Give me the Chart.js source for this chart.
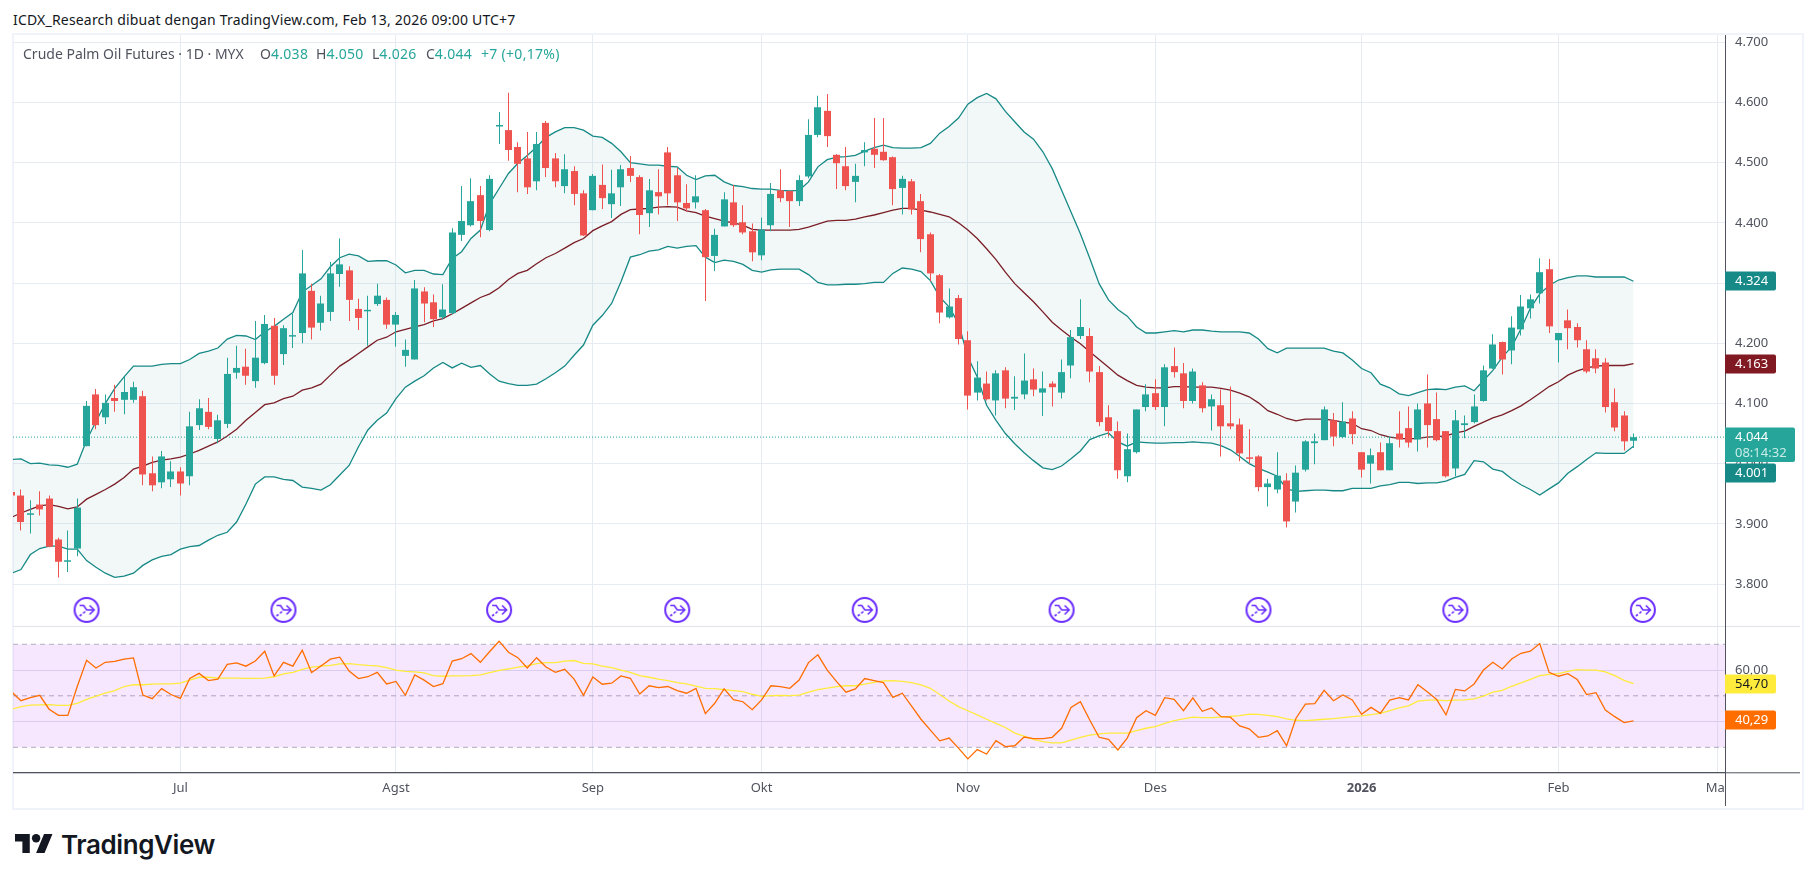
<!DOCTYPE html>
<html>
<head>
<meta charset="utf-8">
<title>Crude Palm Oil Futures</title>
<script src="https://cdn.jsdelivr.net/npm/chart.js@4/dist/chart.umd.js"></script>
<style>
  html, body { margin: 0; background: #fff; overflow: hidden; }
  body { width: 1814px; height: 882px; position: relative; font-family: "Noto Sans", sans-serif; }
  #frame { position: absolute; left: 12px; top: 33px; width: 1788px; height: 773px; border: 2px solid #f0f3fa; }
  canvas { position: absolute; }
  #main { left: 13px; top: 35px; }
  #rsi { left: 13px; top: 626px; }
  #title { position: absolute; left: 13px; top: 10px; font-size: 14px; letter-spacing: 0.19px; line-height: 20px; color: #131722; white-space: nowrap; }
  .legend { position: absolute; top: 44px; font-size: 14px; line-height: 20px; color: #50535e; white-space: pre; }
  .legend b { font-weight: 400; color: #26a69a; letter-spacing: 0.3px; }
  #logo { position: absolute; left: 15px; top: 834px; }
  #brand { position: absolute; left: 61px; top: 827px; font: 600 26px/36px Inter, sans-serif; color: #131722; letter-spacing: -0.4px; }
</style>
</head>
<body>
<div id="frame"></div>
<div id="title">ICDX_Research dibuat dengan TradingView.com, Feb 13, 2026 09:00 UTC+7</div>
<canvas id="main" width="1787" height="591"></canvas>
<canvas id="rsi" width="1787" height="180"></canvas>
<div class="legend" style="left:23px">Crude Palm Oil Futures · 1D · MYX</div>
<div class="legend" style="left:260px">O<b>4.038</b></div>
<div class="legend" style="left:316px">H<b>4.050</b></div>
<div class="legend" style="left:372px">L<b>4.026</b></div>
<div class="legend" style="left:426px">C<b>4.044</b></div>
<div class="legend" style="left:481px"><b>+7 (+0,17%)</b></div>
<svg id="logo" width="38" height="19" viewBox="0 4 36 18"><path fill="#131722" d="M14 22H7V11H0V4h14v18ZM28 22h-8l7.5-18h8L28 22Z"/><circle fill="#131722" cx="20" cy="8" r="4"/></svg>
<div id="brand">TradingView</div>
<script>
// daily candles, bar 0 is clipped at the left edge
const opens = [3953,3947,3915,3932,3942,3874,3837,3859,4029,4115,4077,4109,4106,4106,4112,3984,3969,3974,3987,3979,
  4064,4086,4041,4066,4151,4161,4137,4167,4229,4182,4211,4217,4287,4234,4252,4315,4321,4257,4253,4265,
  4272,4231,4179,4173,4286,4268,4243,4250,4380,4396,4446,4388,4560,4554,4526,4507,4469,4566,4507,4461,
  4486,4449,4421,4463,4431,4459,4491,4476,4416,4451,4517,4479,4433,4434,4421,4345,4394,4434,4401,4386,
  4346,4396,4454,4453,4436,4477,4546,4586,4513,4494,4468,4517,4523,4518,4509,4458,4469,4436,4381,4313,
  4243,4275,4205,4118,4133,4105,4155,4108,4115,4140,4118,4133,4118,4163,4212,4212,4152,4077,4054,3979,
  4019,4094,4117,4094,4162,4150,4104,4130,4095,4097,4067,4065,4009,4012,3961,3957,3972,3937,3990,4034,
  4039,4072,4044,4075,4019,4000,4019,3989,4050,4059,4040,4100,4074,4054,3992,4064,4069,4104,4158,4202,
  4188,4223,4258,4283,4323,4205,4238,4227,4190,4175,4168,4102,4080,4038];
const highs = [3958,3957,3939,3954,3947,3877,3889,3942,4104,4124,4115,4131,4144,4136,4121,4012,4021,4004,3994,4086,
  4107,4109,4081,4176,4196,4191,4237,4247,4242,4230,4249,4355,4299,4279,4335,4374,4328,4274,4279,4299,
  4276,4252,4206,4305,4293,4281,4298,4391,4461,4474,4461,4479,4584,4616,4534,4551,4551,4569,4516,4514,
  4494,4454,4481,4497,4488,4496,4511,4479,4473,4489,4526,4491,4464,4479,4423,4390,4451,4463,4429,4399,
  4409,4466,4489,4453,4479,4572,4611,4614,4514,4526,4498,4534,4574,4574,4510,4478,4473,4448,4384,4315,
  4291,4280,4220,4170,4153,4155,4160,4145,4183,4158,4153,4137,4173,4222,4273,4225,4162,4097,4070,4050,
  4090,4132,4140,4165,4193,4167,4158,4135,4115,4123,4128,4075,4057,4014,3975,4019,3984,3997,4039,4050,
  4095,4084,4102,4087,4019,4025,4035,4045,4087,4095,4100,4148,4118,4054,4089,4080,4115,4163,4215,4203,
  4245,4280,4281,4341,4340,4217,4256,4233,4205,4190,4175,4125,4087,4050];
const lows = [3946,3889,3884,3914,3861,3811,3820,3846,4029,4057,4066,4086,4082,4101,3964,3954,3959,3961,3947,3964,
  4056,4057,4034,4059,4141,4131,4126,4165,4131,4164,4192,4200,4206,4221,4237,4294,4237,4222,4196,4262,
  4224,4194,4161,4173,4235,4227,4240,4248,4370,4394,4376,4386,4531,4503,4451,4448,4454,4476,4459,4449,
  4429,4378,4421,4423,4408,4428,4468,4381,4393,4414,4429,4403,4419,4424,4270,4320,4394,4393,4381,4336,
  4338,4386,4434,4393,4428,4474,4542,4526,4456,4454,4434,4494,4491,4503,4429,4414,4414,4351,4303,4233,
  4241,4198,4090,4105,4105,4080,4092,4089,4107,4112,4079,4095,4108,4142,4207,4135,4062,4045,3975,3969,
  4017,4087,4089,4062,4143,4092,4100,4085,4055,4012,4057,4004,4000,3954,3929,3951,3894,3919,3987,3999,
  4039,4029,4042,4032,3977,3967,3989,3989,4027,4027,4020,4027,4037,3977,3979,4042,4067,4103,4157,4148,
  4165,4213,4241,4266,4217,4168,4190,4193,4150,4150,4085,4054,4022,4026];
const closes = [3947,3903,3917,3924,3862,3837,3839,3927,4096,4064,4101,4104,4119,4127,3982,3964,4012,3987,3967,4062,
  4092,4061,4072,4149,4159,4146,4176,4232,4146,4225,4212,4316,4226,4266,4316,4331,4272,4242,4255,4279,
  4231,4247,4189,4291,4266,4240,4256,4384,4403,4436,4403,4473,4561,4521,4498,4459,4531,4491,4469,4489,
  4448,4379,4478,4441,4449,4489,4478,4413,4454,4444,4449,4434,4424,4444,4343,4380,4439,4396,4384,4351,
  4389,4448,4441,4436,4471,4546,4592,4544,4499,4461,4478,4521,4513,4504,4456,4473,4422,4373,4316,4251,
  4261,4207,4113,4143,4107,4150,4108,4111,4138,4123,4125,4127,4152,4210,4227,4153,4069,4054,3989,4024,
  4090,4115,4094,4160,4152,4104,4153,4092,4107,4062,4062,4017,4008,3961,3967,3980,3904,3985,4037,4037,
  4090,4045,4070,4049,3990,4014,3989,4034,4040,4035,4090,4064,4039,3979,4072,4067,4095,4155,4198,4173,
  4226,4261,4273,4318,4228,4217,4225,4205,4153,4158,4094,4060,4037,4044];

// bollinger bands
const bbUpper = [4007,4008,4000,4001,3998,3997,3994,3999,4039,4070,4100,4125,4144,4162,4162,4162,4165,4166,4166,4173,
  4183,4187,4192,4207,4213,4212,4206,4219,4228,4240,4251,4285,4296,4307,4327,4342,4348,4345,4336,4337,
  4337,4330,4317,4321,4321,4315,4314,4341,4352,4374,4388,4432,4457,4482,4499,4512,4526,4542,4551,4558,
  4558,4554,4544,4542,4532,4518,4500,4498,4496,4496,4494,4493,4479,4472,4478,4479,4468,4462,4460,4457,
  4456,4456,4454,4453,4454,4468,4493,4505,4509,4510,4512,4519,4525,4529,4525,4524,4524,4525,4532,4549,
  4560,4574,4597,4608,4615,4606,4585,4568,4551,4539,4518,4490,4454,4418,4382,4341,4299,4272,4256,4245,
  4227,4217,4217,4219,4221,4219,4222,4222,4220,4219,4219,4219,4217,4207,4191,4184,4192,4192,4192,4192,
  4192,4187,4184,4172,4158,4151,4132,4126,4116,4113,4118,4123,4124,4123,4127,4129,4121,4138,4155,4177,
  4194,4224,4258,4282,4296,4305,4309,4312,4312,4310,4310,4310,4310,4303];
const bbBasis = [3911,3918,3924,3930,3932,3929,3925,3928,3941,3949,3957,3966,3977,3991,3996,4002,4006,4008,4011,4016,
  4022,4029,4036,4046,4057,4072,4085,4098,4101,4108,4112,4122,4126,4132,4147,4162,4172,4183,4194,4205,
  4210,4219,4223,4227,4231,4237,4241,4249,4258,4267,4276,4282,4292,4306,4316,4321,4332,4342,4349,4358,
  4367,4374,4387,4395,4402,4414,4422,4423,4424,4426,4427,4426,4420,4417,4411,4407,4403,4400,4396,4389,
  4388,4388,4388,4388,4389,4393,4398,4403,4404,4404,4406,4410,4413,4417,4421,4424,4424,4421,4418,4414,
  4410,4400,4388,4374,4357,4339,4318,4299,4284,4269,4252,4235,4222,4210,4199,4186,4173,4160,4147,4138,
  4130,4127,4126,4126,4128,4128,4127,4127,4127,4125,4122,4117,4111,4101,4088,4082,4075,4071,4074,4074,
  4074,4072,4069,4067,4058,4055,4048,4044,4042,4041,4042,4044,4045,4046,4051,4054,4062,4069,4076,4081,
  4088,4096,4106,4117,4128,4136,4147,4154,4159,4162,4163,4163,4163,4166];
const bbLower = [3818,3824,3849,3859,3863,3863,3858,3858,3839,3828,3818,3811,3813,3818,3831,3840,3846,3849,3858,3862,
  3864,3873,3881,3886,3903,3933,3966,3978,3978,3974,3972,3961,3959,3956,3965,3981,3997,4028,4056,4072,
  4084,4108,4127,4137,4146,4159,4168,4159,4167,4160,4163,4149,4137,4133,4130,4130,4132,4141,4151,4162,
  4180,4197,4230,4246,4266,4302,4343,4347,4353,4355,4361,4358,4361,4362,4343,4334,4338,4336,4331,4321,
  4318,4322,4323,4323,4323,4314,4301,4297,4297,4298,4298,4299,4301,4301,4316,4325,4323,4319,4304,4277,
  4260,4233,4177,4144,4097,4072,4050,4033,4018,4005,3993,3990,3996,4008,4021,4040,4046,4051,4036,4029,
  4036,4035,4034,4034,4035,4035,4036,4035,4034,4030,4023,4012,4000,3992,3986,3979,3958,3954,3955,3956,
  3956,3955,3955,3959,3959,3959,3963,3965,3969,3969,3967,3968,3968,3971,3977,3982,4005,4003,3991,3987,
  3975,3965,3957,3948,3958,3968,3984,3995,4007,4018,4017,4017,4017,4029];

// rsi pane
const rsiValues = [51.5,48.1,49.3,50.2,44.8,42.4,42.4,53.6,63.8,60.8,63,63.4,64.2,64.7,50.3,48.9,52.8,50.5,49,56.7,
  58.7,55.9,56.5,62.2,62.8,61.5,63.5,67.3,57.7,63,61.5,67.7,59,61.6,64.2,65,59.6,56.7,57.4,59.1,
  54.6,55.6,50.2,58.1,56.1,53.6,54.7,63.5,64.4,66.4,63,67.2,71.2,66.9,64.8,60.8,64.8,61.2,59.1,60.3,
  56.5,50.2,57.3,54.5,54.9,57.7,56.8,50.7,53.9,53.2,53.6,52,51,52.9,43.1,47.1,52.7,48.5,47.7,44.6,
  48.4,53.9,53.6,52.9,56.1,62.9,65.9,60,55.5,51.4,52.7,56.7,55.9,55.1,49.4,51,46,40.9,36.7,32.5,
  33.6,29.7,25.5,29.1,27.4,32.6,30.3,30.6,34,33.4,33.4,33.9,37.4,45.5,47.7,40.6,33.9,33.1,29,33.6,
  41.5,44.2,42.4,49.3,48.6,44.2,49.2,44,45.3,41.9,41.7,38.3,37.2,33.9,34.4,36.5,30.6,41.3,46.8,47,
  52.1,48.1,50.3,48.4,42.8,45.5,43.2,48.3,49.3,48.4,54.3,51.6,48.6,42.6,52.5,51.9,54.6,60,63,60.4,
  64.3,66.5,67.3,70.3,59.1,57.6,58.6,56.3,50.5,51.2,44.5,41.9,39.6,40.29];
const rsiMa = [44.8,45.8,46.4,46.5,46.6,46.3,46.3,47.1,48.6,49.9,51,52,53.6,54.3,54.3,54.5,54.6,54.6,54.9,56.1,
  57.2,57.2,56.9,56.9,56.9,56.8,56.8,56.9,57.4,58.5,59.1,60.3,61.1,61.5,61.8,62.4,62.5,62.1,61.8,61.6,
  60.9,60,59.5,59.3,58.9,57.8,57.6,57.7,57.7,57.8,58.1,59,59.9,60.4,61.1,61.6,62.5,62.9,62.9,63.5,
  63.7,62.6,62.4,61.5,60.9,60,59.1,57.8,57.2,56.5,55.9,55.1,54.6,53.8,52.9,52.8,52.4,52,51.6,50.6,
  49.8,50.1,50.2,50.1,50.3,51.4,52.4,53,53.6,53.9,53.9,54.5,55.2,55.8,55.9,55.6,55.1,54.2,52.9,50.5,
  48,45.8,44.2,42.6,40.9,39.3,37.7,35.5,34.3,33.1,32.2,31.7,31.7,32.8,33.9,34.7,35.2,35.5,35.5,35.5,
  36.5,37.4,38,39.3,40.4,41,41.7,41.5,41.5,41.7,42,42.3,42.9,42.8,42.4,41.9,41,40.5,40.4,40.6,
  40.9,41.1,41.5,41.9,42.2,42.7,43.2,44.2,45.3,46.1,47.9,48.3,48.3,48.1,48.3,48.4,48.8,49.9,51.4,52.1,
  53.7,55,56.4,57.8,58.3,58.6,59.5,60.2,60,60,59.3,57.8,56,54.7];

const monthBars = [18, 41, 62, 80, 102, 122, 144, 165, 182];
const monthLabels = ["Jul", "Agst", "Sep", "Okt", "Nov", "Des", "2026", "Feb", "Mar"];
const priceTicks = [3800, 3900, 4000, 4100, 4200, 4300, 4400, 4500, 4600, 4700];
const rsiTicks = [40, 60];
const rsiLevels = [70, 50, 30];
const eventBars = [8, 29, 52, 71, 91, 112, 133, 154, 174];

const X_MIN = 0.149, X_MAX = 182.76;
const GREEN = "#26a69a", RED = "#ef5350", TEAL = "#178a87", MAROON = "#801922";
const GRID = "#e6ecf2", AXIS = "#50535e";
const FONT = '"Noto Sans", sans-serif';

const pts = (arr) => arr.map((y, x) => ({ x, y }));
const flat = (y) => [{ x: X_MIN, y }, { x: X_MAX, y }];
const candleColors = closes.map((c, i) => (c >= opens[i] ? GREEN : RED));

// stop chart.js insetting the plot area for half tick labels
function noPadding(scale) {
  scale.paddingTop = scale.paddingBottom = scale.paddingLeft = scale.paddingRight = 0;
}

function makeIcon() {
  const c = document.createElement("canvas");
  c.width = c.height = 30;
  const g = c.getContext("2d");
  g.strokeStyle = "#6a2dff";
  g.lineWidth = 2;
  g.beginPath();
  g.arc(15, 15, 12, 0, Math.PI * 2);
  g.stroke();
  g.lineWidth = 1.6;
  g.beginPath();
  g.moveTo(8, 10.5); g.lineTo(12, 10.5); g.lineTo(15, 15); g.lineTo(22, 15);
  g.moveTo(18, 10.5); g.lineTo(22.5, 15); g.lineTo(18, 19.5);
  g.moveTo(8, 21); g.lineTo(10, 19.5);
  g.moveTo(11.5, 18.5); g.lineTo(13.5, 16.5);
  g.stroke();
  return c;
}

const monthAxis = {
  type: "linear", min: X_MIN, max: X_MAX, offset: false,
  afterBuildTicks(scale) { scale.ticks = monthBars.map((value) => ({ value })); },
};

function drawTag(ctx, yScale, t) {
  const y = Math.round(yScale.getPixelForValue(t.at));
  const x = yScale.left;
  ctx.fillStyle = t.bg;
  ctx.beginPath();
  ctx.roundRect(x, y - 9.5, 51, 19, [0, 2, 2, 0]);
  ctx.fill();
  ctx.fillStyle = t.fg;
  ctx.font = "13px " + FONT;
  ctx.textAlign = "left";
  ctx.textBaseline = "middle";
  ctx.fillText(t.text, x + 10, y + 0.5);
}

// keep wicks and bodies on whole pixels so they stay sharp
const snapBars = {
  id: "snapBars",
  afterDatasetsUpdate(chart) {
    chart.getSortedVisibleDatasetMetas().forEach((meta) => {
      if (meta.type !== "bar") return;
      meta.data.forEach((el) => { el.x = Math.floor(el.x) + 0.5; });
    });
  },
};

const mainTags = {
  id: "mainTags",
  afterDraw(chart) {
    const { ctx, scales: { y } } = chart;
    const last = closes.length - 1;
    ctx.save();
    drawTag(ctx, y, { at: bbUpper[last], text: "4.324", bg: TEAL, fg: "#fff" });
    drawTag(ctx, y, { at: bbBasis[last], text: "4.163", bg: MAROON, fg: "#fff" });
    drawTag(ctx, y, { at: 3985, text: "4.001", bg: TEAL, fg: "#fff" });
    const top = Math.round(y.getPixelForValue(closes[last])) - 9.5;
    ctx.fillStyle = GREEN;
    ctx.beginPath();
    ctx.roundRect(y.left, top, 70, 34.5, [0, 2, 2, 0]);
    ctx.fill();
    ctx.fillStyle = "#fff";
    ctx.fillText("4.044", y.left + 10, top + 10);
    ctx.fillStyle = "#c8ebe6";
    ctx.fillText("08:14:32", y.left + 10, top + 26);
    ctx.restore();
  },
};

const rsiTags = {
  id: "rsiTags",
  afterDraw(chart) {
    const { ctx, scales: { y, x }, chartArea: a } = chart;
    ctx.save();
    // the Mar label runs under the price axis
    ctx.fillStyle = "#fff";
    ctx.fillRect(a.right + 1, a.bottom + 1, 73, 33);
    ctx.strokeStyle = AXIS;
    ctx.lineWidth = 1;
    ctx.beginPath();
    ctx.moveTo(a.right + 0.5, 0);
    ctx.lineTo(a.right + 0.5, a.bottom + 34);
    ctx.moveTo(x.left, a.bottom + 0.5);
    ctx.lineTo(a.right + 75, a.bottom + 0.5);
    ctx.stroke();
    ctx.strokeStyle = "#e0e3eb";
    ctx.beginPath();
    ctx.moveTo(0, 0.5);
    ctx.lineTo(a.right, 0.5);
    ctx.moveTo(a.right + 1, 0.5);
    ctx.lineTo(a.right + 75, 0.5);
    ctx.stroke();
    drawTag(ctx, y, { at: rsiMa[rsiMa.length - 1], text: "54,70", bg: "#ffeb3b", fg: "#131722" });
    drawTag(ctx, y, { at: 40.6, text: "40,29", bg: "#ff6d00", fg: "#fff" });
    ctx.restore();
  },
};

new Chart(document.getElementById("main"), {
  type: "bar",
  data: {
    datasets: [
      { type: "line", data: pts(bbUpper), borderColor: TEAL, borderWidth: 1.3, pointRadius: 0, fill: "+1", backgroundColor: "rgba(26,130,125,0.055)", order: 3 },
      { type: "line", data: pts(bbLower), borderColor: TEAL, borderWidth: 1.3, pointRadius: 0, order: 3 },
      { type: "line", data: pts(bbBasis), borderColor: MAROON, borderWidth: 1.3, pointRadius: 0, order: 3 },
      { type: "line", data: flat(closes[closes.length - 1]), borderColor: GREEN, borderWidth: 1, borderDash: [1, 2], pointRadius: 0, order: 2 },
      { data: lows.map((l, i) => ({ x: i, y: [l, highs[i]] })), backgroundColor: candleColors, barThickness: 1, inflateAmount: 0, grouped: false, order: 1 },
      { data: opens.map((o, i) => ({ x: i, y: [Math.min(o, closes[i]), Math.max(o, closes[i])] })), backgroundColor: candleColors, barThickness: 7, inflateAmount: 0, minBarLength: 1.5, grouped: false, order: 0 },
      { type: "line", data: eventBars.map((x) => ({ x, y: 3757 })), showLine: false, pointStyle: makeIcon(), pointRadius: 15, clip: false, order: 0 },
    ],
  },
  options: {
    responsive: false,
    animation: false,
    devicePixelRatio: 1,
    layout: { padding: 0, autoPadding: false },
    plugins: { legend: { display: false }, tooltip: { enabled: false } },
    scales: {
      x: { ...monthAxis, afterFit: noPadding, grid: { color: GRID, offset: false, drawTicks: false }, border: { display: false }, ticks: { display: false } },
      y: {
        position: "right", min: 3730.3, max: 4712,
        afterBuildTicks(scale) { scale.ticks = priceTicks.map((value) => ({ value })); },
        afterFit(scale) { noPadding(scale); scale.width = 75; },
        grid: { color: GRID, drawTicks: false },
        border: { color: AXIS },
        ticks: { color: AXIS, font: { family: FONT, size: 13 }, padding: 10, callback: (v) => String(v).replace(/(\d)(\d{3})$/, "$1.$2") },
      },
    },
  },
  plugins: [snapBars, mainTags],
});

new Chart(document.getElementById("rsi"), {
  type: "line",
  data: {
    datasets: [
      { data: flat(rsiLevels[0]), borderColor: "#b2b0bc", borderWidth: 1, borderDash: [5, 4], pointRadius: 0, fill: "+1", backgroundColor: "rgba(170,40,245,0.11)", order: 3 },
      { data: flat(rsiLevels[2]), borderColor: "#b2b0bc", borderWidth: 1, borderDash: [5, 4], pointRadius: 0, order: 3 },
      { data: flat(rsiLevels[1]), borderColor: "#b2b0bc", borderWidth: 1, borderDash: [5, 4], pointRadius: 0, order: 3 },
      { data: pts(rsiMa), borderColor: "#ffeb3b", borderWidth: 1.3, pointRadius: 0, order: 2 },
      { data: pts(rsiValues), borderColor: "#ff6d00", borderWidth: 1.3, pointRadius: 0, order: 1 },
    ],
  },
  options: {
    responsive: false,
    animation: false,
    devicePixelRatio: 1,
    layout: { padding: 0, autoPadding: false },
    plugins: { legend: { display: false }, tooltip: { enabled: false } },
    scales: {
      x: {
        ...monthAxis,
        afterFit(scale) { noPadding(scale); scale.height = 33.7; },
        grid: { color: GRID, drawTicks: false },
        border: { color: AXIS },
        ticks: {
          autoSkip: false, maxRotation: 0, padding: 8, color: AXIS,
          font: (ctx) => ({ family: FONT, size: 13, weight: ctx.tick && ctx.tick.value === 144 ? "700" : "400" }),
          callback: (v) => monthLabels[monthBars.indexOf(v)],
        },
      },
      y: {
        position: "right", min: 20.3, max: 77.1,
        afterBuildTicks(scale) { scale.ticks = rsiTicks.map((value) => ({ value })); },
        afterFit(scale) { noPadding(scale); scale.width = 75; },
        grid: { color: "#dfe1ee", drawTicks: false },
        border: { color: AXIS },
        ticks: { color: AXIS, font: { family: FONT, size: 13 }, padding: 10, callback: (v) => v.toFixed(2).replace(".", ",") },
      },
    },
  },
  plugins: [rsiTags],
});
</script>
</body>
</html>
